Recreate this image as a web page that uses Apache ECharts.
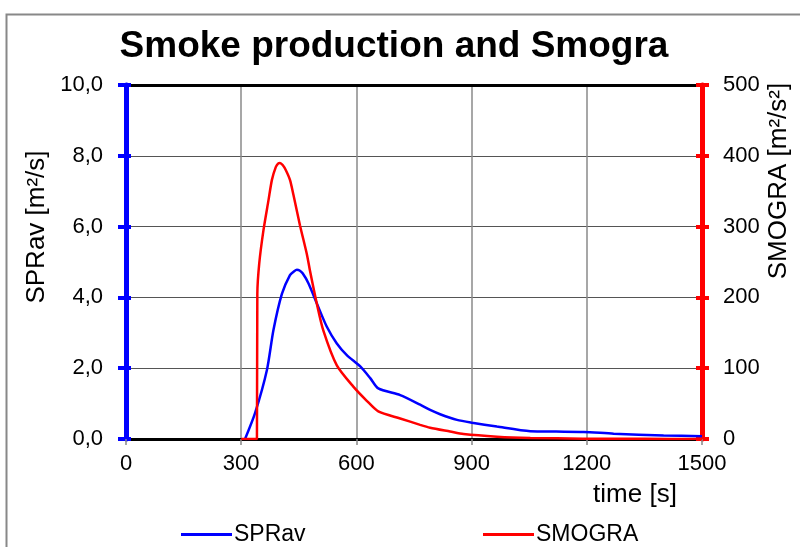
<!DOCTYPE html>
<html>
<head>
<meta charset="utf-8">
<script src="https://cdn.jsdelivr.net/npm/echarts@6/dist/echarts.min.js"></script>
<style>
  html, body { margin: 0; padding: 0; background: #fff; }
  #chart { width: 800px; height: 547px; }
</style>
</head>
<body>
<div id="chart"></div>
<script>
const FONT = "'Liberation Sans', Arial, sans-serif";

// SPRav [m²/s] over time [s]
const sprTime = [310, 336, 367, 384, 406, 427, 438, 445, 452, 460, 475, 497, 523, 549, 575, 610, 636, 657, 714, 766, 792, 818, 862, 901, 966, 1053, 1120, 1192, 1270, 1400, 1500];
const sprValue = [0, 0.73, 1.95, 3.08, 4.1, 4.63, 4.74, 4.78, 4.76, 4.68, 4.40, 3.83, 3.17, 2.70, 2.37, 2.05, 1.72, 1.43, 1.24, 0.97, 0.82, 0.70, 0.54, 0.46, 0.35, 0.22, 0.21, 0.20, 0.15, 0.10, 0.08];

// SMOGRA [m²/s²] over time [s]
const smoTime = [300, 341, 342, 347, 358, 371, 380, 390, 396, 401, 408, 416, 427, 436, 453, 471, 479, 497, 514, 549, 592, 627, 657, 714, 766, 792, 844, 879, 966, 1053, 1190, 1350, 1500];
const smoValue = [0, 0, 205, 248, 295, 337, 366, 384, 389, 390, 387, 380, 366, 345, 302, 261, 238, 191, 153, 104, 74, 54, 39, 29, 20, 16, 10.6, 7, 3.3, 1.5, 0.5, 0.2, 0];

const timeTicks = [0, 300, 600, 900, 1200, 1500];

const sprData = sprTime.map((t, i) => [t, sprValue[i]]);
const smoData = smoTime.map((t, i) => [t, smoValue[i]]);

const myChart = echarts.init(document.getElementById('chart'), null, { width: 800, height: 547 });

// extra axis only to draw the inner half of the crossing ticks
const innerTicks = (pos, max, step, color, len) => ({
  type: 'value', min: 0, max: max, interval: step, position: pos,
  axisLine: { show: false, onZero: false },
  axisTick: { show: true, inside: true, length: len, lineStyle: { color: color, width: 4 } },
  axisLabel: { show: false }, splitLine: { show: false },
});

const option = {
  animation: false,
  textStyle: { fontFamily: FONT },
  grid: { left: 126, right: 98, top: 85, bottom: 108, containLabel: false },
  xAxis: [
    {
      type: 'value', min: timeTicks[0], max: timeTicks[timeTicks.length - 1], interval: 300,
      axisLine: { show: true, onZero: false, lineStyle: { color: '#000', width: 3 } },
      axisTick: { show: true, length: 6, lineStyle: { color: '#888', width: 1.5 } },
      axisLabel: { fontSize: 22, color: '#000', margin: 14, fontFamily: FONT, formatter: v => String(v) },
      splitLine: { show: true, lineStyle: { color: '#8a8a8a', width: 1.5 } },
    },
    {
      type: 'value', min: 0, max: 1500, position: 'top',
      axisLine: { show: true, onZero: false, lineStyle: { color: '#000', width: 3 } },
      axisTick: { show: false }, axisLabel: { show: false }, splitLine: { show: false },
    },
  ],
  yAxis: [
    {
      type: 'value', min: 0, max: 10, interval: 2, position: 'left',
      axisLine: { show: true, onZero: false, lineStyle: { color: '#0000ff', width: 5 } },
      axisTick: { show: true, length: 8, lineStyle: { color: '#0000ff', width: 4 } },
      axisLabel: { fontSize: 22, color: '#000', margin: 23, fontFamily: FONT,
        formatter: v => v.toFixed(1).replace('.', ',') },
      splitLine: { show: true, lineStyle: { color: '#555', width: 1 } },
    },
    {
      type: 'value', min: 0, max: 500, interval: 100, position: 'right',
      axisLine: { show: true, onZero: false, lineStyle: { color: '#ff0000', width: 5 } },
      axisTick: { show: true, length: 7, lineStyle: { color: '#ff0000', width: 4 } },
      axisLabel: { fontSize: 22, color: '#000', margin: 21, fontFamily: FONT },
      splitLine: { show: false },
    },
    innerTicks('left', 10, 2, '#0000ff', 5),
    innerTicks('right', 500, 100, '#ff0000', 6),
  ],
  legend: [
    {
      data: ['SPRav'], left: 176, top: 518, icon: 'rect', itemWidth: 51, itemHeight: 3,
      itemGap: 0, textStyle: { fontSize: 23, color: '#000', fontFamily: FONT, padding: [0, 0, 0, -3] },
    },
    {
      data: ['SMOGRA'], left: 478, top: 518, icon: 'rect', itemWidth: 51, itemHeight: 3,
      itemGap: 0, textStyle: { fontSize: 23, color: '#000', fontFamily: FONT, padding: [0, 0, 0, -3] },
    },
  ],
  graphic: [
    { type: 'rect', left: 4, top: 12, silent: true,
      shape: { width: 900, height: 700 }, style: { fill: 'none', stroke: '#888', lineWidth: 2 } },
    { type: 'text', x: 394, y: 47,
      style: { text: 'Smoke production and Smogra', font: 'bold 37px ' + FONT, fill: '#000',
        textAlign: 'center', textVerticalAlign: 'middle' } },
    { type: 'text', x: 37, y: 227, rotation: Math.PI / 2,
      style: { text: 'SPRav [m²/s]', font: '26px ' + FONT, fill: '#000',
        textAlign: 'center', textVerticalAlign: 'middle' } },
    { type: 'text', x: 779, y: 181, rotation: Math.PI / 2,
      style: { text: 'SMOGRA [m²/s²]', font: '26px ' + FONT, fill: '#000',
        textAlign: 'center', textVerticalAlign: 'middle' } },
    { type: 'text', x: 635, y: 495,
      style: { text: 'time [s]', font: '26px ' + FONT, fill: '#000',
        textAlign: 'center', textVerticalAlign: 'middle' } },
  ],
  series: [
    {
      name: 'SPRav', type: 'line', xAxisIndex: 0, yAxisIndex: 0, data: sprData,
      showSymbol: false, smooth: 0.25, lineStyle: { color: '#0000ff', width: 2.5 }, itemStyle: { color: '#0000ff' },
      z: 3,
    },
    {
      name: 'SMOGRA', type: 'line', xAxisIndex: 0, yAxisIndex: 1, data: smoData,
      showSymbol: false, smooth: 0.25, lineStyle: { color: '#ff0000', width: 2.5 }, itemStyle: { color: '#ff0000' },
      z: 4,
    },
  ],
};

myChart.setOption(option);
</script>
</body>
</html>
